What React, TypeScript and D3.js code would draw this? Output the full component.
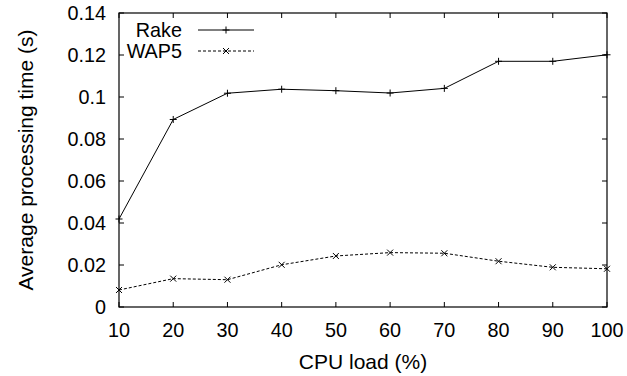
import React from "react";
import * as d3 from "d3";

const cpuLoad = [10, 20, 30, 40, 50, 60, 70, 80, 90, 100];
const rakeValues = [0.0419, 0.0893, 0.1018, 0.1037, 0.103, 0.1019, 0.1041, 0.117, 0.117, 0.1201];
const wap5Values = [0.0081, 0.0135, 0.013, 0.0201, 0.0243, 0.0259, 0.0256, 0.0218, 0.0189, 0.0182];
const yTicks = [0, 0.02, 0.04, 0.06, 0.08, 0.1, 0.12, 0.14];
const yTickLabels = ["0", "0.02", "0.04", "0.06", "0.08", "0.1", "0.12", "0.14"];

const W = 627;
const H = 376;
const left = 119;
const right = 607;
const top = 13;
const bottom = 307;
const font = "'Liberation Sans', Arial, Helvetica, sans-serif";
const fs = 19.8;
const fsTitle = 21;

export default function App() {
  const x = d3.scaleLinear().domain([10, 100]).range([left, right]);
  const y = d3.scaleLinear().domain([0, 0.14]).range([bottom, top]);
  const line = d3
    .line<number>()
    .x((_, i) => x(cpuLoad[i]))
    .y((d) => y(d));
  const tl = 5;

  const plus = (cx: number, cy: number, k: string) => (
    <path key={k} d={`M${cx - 3.5},${cy}H${cx + 3.5}M${cx},${cy - 3.5}V${cy + 3.5}`} stroke="#000" strokeWidth={1} />
  );
  const cross = (cx: number, cy: number, k: string) => (
    <path key={k} d={`M${cx - 3},${cy - 3}L${cx + 3},${cy + 3}M${cx - 3},${cy + 3}L${cx + 3},${cy - 3}`} stroke="#000" strokeWidth={1} />
  );

  return (
    <svg width={W} height={H} style={{ position: "absolute", left: 0, top: 0, background: "#fff" }}>
      <rect x={0} y={0} width={W} height={H} fill="#fff" />
      {yTicks.map((t, i) => (
        <g key={"y" + i}>
          <line x1={left} x2={left + tl} y1={y(t)} y2={y(t)} stroke="#000" />
          <line x1={right} x2={right - tl} y1={y(t)} y2={y(t)} stroke="#000" />
          <text x={left - 13} y={y(t) + 7} textAnchor="end" fontFamily={font} fontSize={fs}>
            {yTickLabels[i]}
          </text>
        </g>
      ))}
      {cpuLoad.map((c, i) => (
        <g key={"x" + i}>
          <line x1={x(c)} x2={x(c)} y1={bottom} y2={bottom - tl} stroke="#000" />
          <line x1={x(c)} x2={x(c)} y1={top} y2={top + tl} stroke="#000" />
          <text x={x(c)} y={bottom + 30} textAnchor="middle" fontFamily={font} fontSize={fs}>
            {c}
          </text>
        </g>
      ))}
      <rect x={left} y={top} width={right - left} height={bottom - top} fill="none" stroke="#000" strokeWidth={1.2} />
      <path d={line(rakeValues) || ""} fill="none" stroke="#000" strokeWidth={1} />
      {rakeValues.map((v, i) => plus(x(cpuLoad[i]), y(v), "rp" + i))}
      <path d={line(wap5Values) || ""} fill="none" stroke="#000" strokeWidth={1} strokeDasharray="3,2" />
      {wap5Values.map((v, i) => cross(x(cpuLoad[i]), y(v), "wp" + i))}
      <text x={182} y={37} textAnchor="end" fontFamily={font} fontSize={fs}>Rake</text>
      <line x1={198} x2={254} y1={30} y2={30} stroke="#000" />
      {plus(226, 30, "lp")}
      <text x={182} y={58} textAnchor="end" fontFamily={font} fontSize={fs}>WAP5</text>
      <line x1={198} x2={254} y1={51} y2={51} stroke="#000" strokeDasharray="3,2" />
      {cross(226, 51, "lc")}
      <text x={(left + right) / 2} y={369} textAnchor="middle" fontFamily={font} fontSize={fsTitle}>CPU load (%)</text>
      <text transform={`translate(33,${(top + bottom) / 2}) rotate(-90)`} textAnchor="middle" fontFamily={font} fontSize={fsTitle}>
        Average processing time (s)
      </text>
    </svg>
  );
}
